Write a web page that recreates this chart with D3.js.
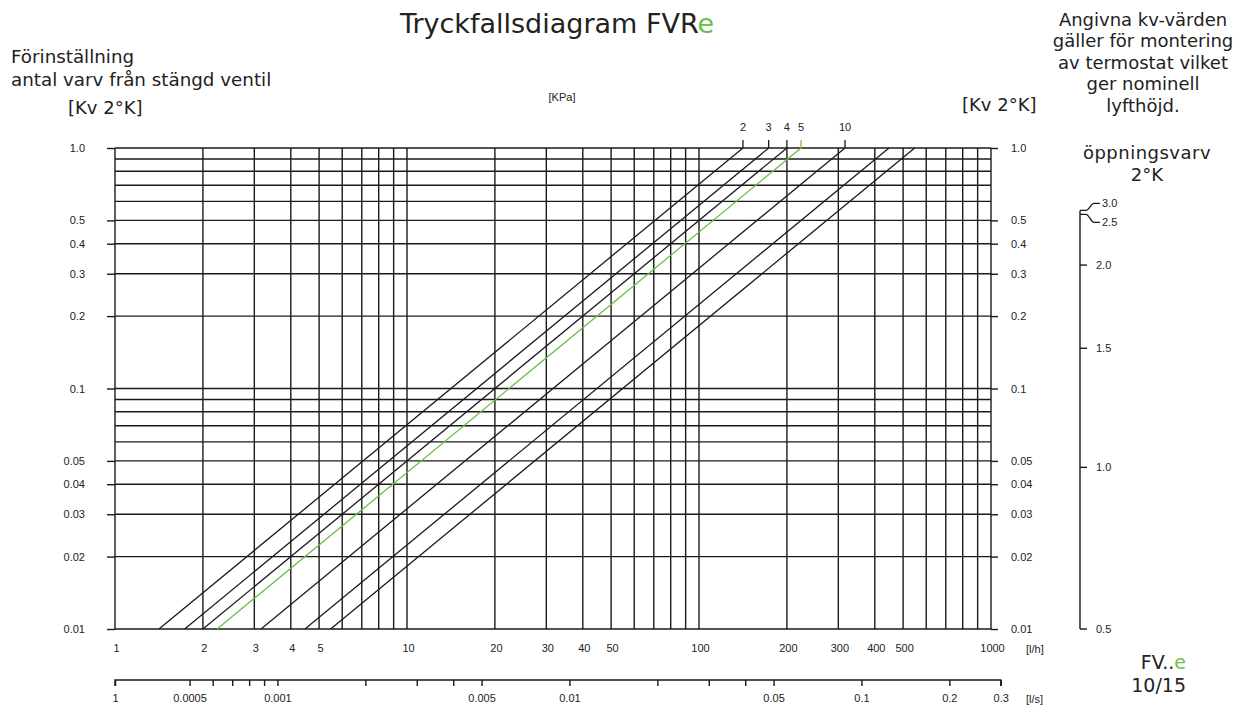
<!DOCTYPE html>
<html>
<head>
<meta charset="utf-8">
<script src="https://cdn.jsdelivr.net/npm/d3@7"></script>
<style>
	body{margin:0;background:#fff;}
	svg text{fill:#222;}
	.tick line{stroke:#1a1a1a;stroke-width:1.4;}
	.txt{font-family:"DejaVu Sans",sans-serif;}
	.num{font-family:"Liberation Sans",Arial,sans-serif;font-size:11px;}
</style>
</head>
<body>
<div id="result"></div>
<script>
// flow [l/h] grid and labels
var flowGrid   = [1,2,3,4,5,6,7,8,9,10,20,30,40,50,60,70,80,90,100,200,300,400,500,600,700,800,900,1000];
var flowLabels = [1,2,3,4,5,10,20,30,40,50,100,200,300,400,500,1000];
// Kv grid and labels
var kvGrid   = [1,0.9,0.8,0.7,0.6,0.5,0.4,0.3,0.2,0.1,0.09,0.08,0.07,0.06,0.05,0.04,0.03,0.02,0.01];
var kvLabels = [1,0.5,0.4,0.3,0.2,0.1,0.05,0.04,0.03,0.02,0.01];
// pressure drop lines [kPa]
var pressureDrops  = [2,3,4,5,10,20,30];
var pressureLabels = [2,3,4,5,10];
var greenDrop = 5;
// flow [l/s] axis
var lsTicks  = [1/3600,0.0005,0.0006,0.0007,0.0008,0.0009,0.001,0.002,0.003,0.004,0.005,0.01,0.02,0.03,0.04,0.05,0.1,0.2,0.3];
var lsLabels = [0.0005,0.001,0.005,0.01,0.05,0.1,0.2,0.3];
// öppningsvarv 2°K -> Kv
var turnValues = [0.5,1.0,1.5,2.0];
var turnKv     = [0.01,0.047,0.147,0.326];
var turnTop    = [{"v":3.0,"kv":0.55,"dy":-7},{"v":2.5,"kv":0.53,"dy":8}];

(function(){
	'use strict';

	var option = {
		"width":1245,
		"height":708,
		"left":115,
		"right":991,
		"top":148,
		"bottom":629,
		"green":"#6abf4b",
		"ink":"#1a1a1a"
	};

	var svg = d3.select("#result")
		.append("svg")
		.attr("width",option.width)
		.attr("height",option.height);

	var x = d3.scaleLog().domain([1,1000]).range([option.left,option.right]);
	var y = d3.scaleLog().domain([0.01,1]).range([option.bottom,option.top]);
	var fmtKv = function(d){return d===1 ? "1.0" : String(d);};

	// vertical grid
	svg.append("g").selectAll("line")
		.data(flowGrid).enter().append("line")
		.attr("x1",function(d){return x(d);})
		.attr("x2",function(d){return x(d);})
		.attr("y1",option.top)
		.attr("y2",option.bottom)
		.attr("stroke",option.ink)
		.attr("stroke-width",1.4);

	// horizontal grid
	svg.append("g").selectAll("line")
		.data(kvGrid).enter().append("line")
		.attr("x1",option.left)
		.attr("x2",option.right)
		.attr("y1",function(d){return y(d);})
		.attr("y2",function(d){return y(d);})
		.attr("stroke",option.ink)
		.attr("stroke-width",1.4);

	// Kv axes left and right
	var axL = svg.append("g").attr("class","num")
		.attr("transform","translate("+option.left+",0)")
		.call(d3.axisLeft(y).tickValues(kvLabels).tickFormat(fmtKv).tickSize(8).tickPadding(22));
	axL.select(".domain").remove();
	var axR = svg.append("g").attr("class","num")
		.attr("transform","translate("+option.right+",0)")
		.call(d3.axisRight(y).tickValues(kvLabels).tickFormat(fmtKv).tickSize(7).tickPadding(13));
	axR.select(".domain").remove();

	// l/h labels
	var axB = svg.append("g").attr("class","num")
		.attr("transform","translate(0,"+(option.bottom+12)+")")
		.call(d3.axisBottom(x).tickValues(flowLabels).tickFormat(d3.format("d")).tickSize(0).tickPadding(3));
	axB.select(".domain").remove();
	axB.selectAll("text").attr("dx",1);

	// l/s axis
	var xs = d3.scaleLog().domain([1/3600,1000/3600]).range([option.left,option.right]);
	var axS = svg.append("g").attr("class","num")
		.attr("transform","translate(0,680)")
		.call(d3.axisBottom(xs).tickValues(lsTicks).tickSize(6).tickSizeOuter(6).tickPadding(8)
			.tickFormat(function(d){
				if(d===lsTicks[0]) return "1";
				return lsLabels.indexOf(d)>=0 ? String(d) : "";
			}));
	axS.select(".domain").attr("d","M"+option.left+",6V0H"+xs(0.3)+"V6").attr("stroke",option.ink).attr("stroke-width",1.4);

	svg.append("text").attr("class","num").attr("x",1026).attr("y",653).text("[l/h]");
	svg.append("text").attr("class","num").attr("x",1026).attr("y",703).text("[l/s]");

	// pressure drop lines: Q[l/h] = 100 * Kv * sqrt(dp)
	var flowAt = function(kv,dp){return 100*kv*Math.sqrt(dp);};
	svg.append("g").selectAll("line")
		.data(pressureDrops).enter().append("line")
		.attr("x1",function(d){return x(flowAt(0.01,d));})
		.attr("y1",y(0.01))
		.attr("x2",function(d){return x(flowAt(1,d));})
		.attr("y2",y(1))
		.attr("stroke",function(d){return d===greenDrop ? option.green : option.ink;})
		.attr("stroke-width",1.3);

	var pl = svg.append("g").selectAll("g")
		.data(pressureLabels).enter().append("g")
		.attr("transform",function(d){return "translate("+x(flowAt(1,d))+","+y(1)+")";});
	pl.append("line")
		.attr("y1",0).attr("y2",-8)
		.attr("stroke",function(d){return d===greenDrop ? option.green : option.ink;})
		.attr("stroke-width",1.3);
	pl.append("text").attr("class","num")
		.attr("y",-17).attr("text-anchor","middle")
		.text(function(d){return d;});

	svg.append("text").attr("class","num").attr("x",562).attr("y",101)
		.attr("text-anchor","middle").attr("font-size",12).text("[KPa]");

	// öppningsvarv scale
	var vx = 1080;
	var vTop = y(turnTop[0].kv);
	svg.append("line").attr("x1",vx).attr("x2",vx).attr("y1",vTop).attr("y2",y(0.01))
		.attr("stroke",option.ink).attr("stroke-width",1.4);
	var tv = svg.append("g").selectAll("g")
		.data(turnValues).enter().append("g")
		.attr("transform",function(d,i){return "translate("+vx+","+y(turnKv[i])+")";});
	tv.append("line").attr("x1",0).attr("x2",7).attr("stroke",option.ink).attr("stroke-width",1.4);
	tv.append("text").attr("class","num").attr("x",16).attr("dy","0.35em")
		.text(function(d){return d.toFixed(1);});

	var tt = svg.append("g").selectAll("g")
		.data(turnTop).enter().append("g")
		.attr("transform",function(d){return "translate("+vx+","+y(d.kv)+")";});
	tt.append("path")
		.attr("d",function(d){return "M0,0H6C9,0 11,"+d.dy+" 14,"+d.dy+"H20";})
		.attr("fill","none").attr("stroke",option.ink).attr("stroke-width",1.3);
	tt.append("text").attr("class","num").attr("x",22).attr("y",function(d){return d.dy;}).attr("dy","0.35em")
		.text(function(d){return d.v.toFixed(1);});

	// texts
	var title = svg.append("text").attr("class","txt").attr("x",557).attr("y",33)
		.attr("text-anchor","middle").attr("font-size",27);
	title.append("tspan").text("Tryckfallsdiagram FVR");
	title.append("tspan").style("fill",option.green).text("e");

	svg.append("text").attr("class","txt").attr("x",11).attr("y",63).attr("font-size",18.3).text("Förinställning");
	svg.append("text").attr("class","txt").attr("x",11).attr("y",86).attr("font-size",18.3).text("antal varv från stängd ventil");
	svg.append("text").attr("class","txt").attr("x",68).attr("y",114).attr("font-size",18).text("[Kv 2°K]");
	svg.append("text").attr("class","txt").attr("x",962).attr("y",111).attr("font-size",18).text("[Kv 2°K]");

	var note = ["Angivna kv-värden","gäller för montering","av termostat vilket","ger nominell","lyfthöjd."];
	svg.append("g").selectAll("text")
		.data(note).enter().append("text").attr("class","txt")
		.attr("x",1143).attr("y",function(d,i){return 26+i*21.4;})
		.attr("text-anchor","middle").attr("font-size",18)
		.text(function(d){return d;});
	svg.append("text").attr("class","txt").attr("x",1147).attr("y",159).attr("text-anchor","middle").attr("font-size",18).attr("letter-spacing",0.5).text("öppningsvarv");
	svg.append("text").attr("class","txt").attr("x",1147).attr("y",181).attr("text-anchor","middle").attr("font-size",18).text("2°K");

	var fv = svg.append("text").attr("class","txt").attr("x",1186).attr("y",669).attr("text-anchor","end").attr("font-size",19);
	fv.append("tspan").text("FV..");
	fv.append("tspan").style("fill",option.green).text("e");
	svg.append("text").attr("class","txt").attr("x",1186).attr("y",692).attr("text-anchor","end").attr("font-size",19).text("10/15");

})();
</script>
</body>
</html>
